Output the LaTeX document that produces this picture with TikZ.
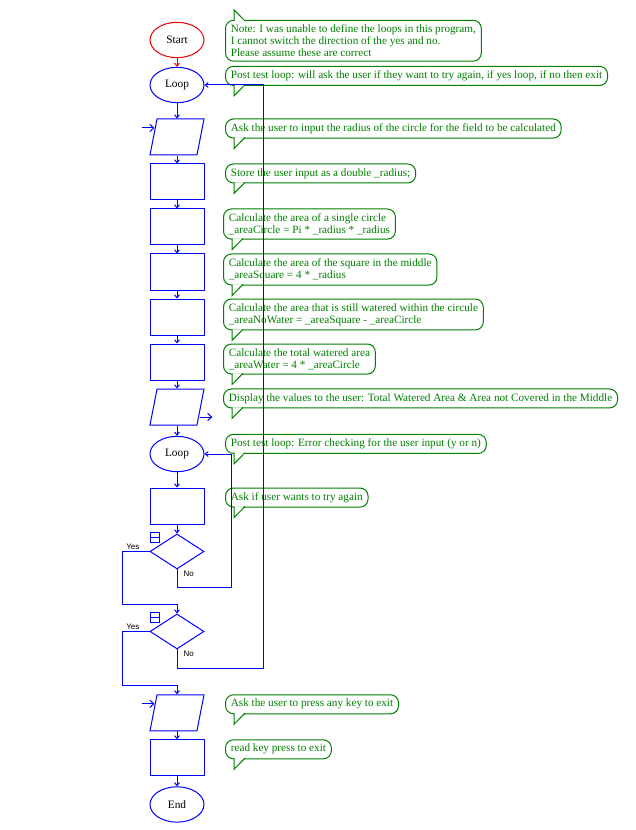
\documentclass[tikz,border=0pt]{standalone}
\usepackage{fontspec}
\setmainfont{Liberation Serif}
\setsansfont{Liberation Sans}
\usetikzlibrary{shapes.geometric,arrows.meta,positioning}

\definecolor{flowblue}{RGB}{0,0,255}
\definecolor{notegreen}{RGB}{0,128,0}
\definecolor{startred}{RGB}{240,0,0}

\begin{document}
\begin{tikzpicture}[>={Straight Barb[length=2.2pt,width=3.6pt]},node distance=33.75pt,line width=0.75pt]
\tikzstyle{every node}=[font=\fontsize{8.5}{10}\selectfont]
\tikzstyle{term}=[ellipse,draw=flowblue,minimum width=40.5pt,minimum height=26.5pt,inner sep=0pt]
\tikzstyle{proc}=[rectangle,draw=flowblue,minimum width=40.5pt,minimum height=27pt,inner sep=0pt]
\tikzstyle{io}=[trapezium,trapezium left angle=80,trapezium right angle=100,trapezium stretches=true,draw=flowblue,minimum width=40.5pt,minimum height=27pt,inner sep=1pt]
\tikzstyle{decision}=[diamond,draw=flowblue,minimum width=40.5pt,minimum height=26.25pt,inner sep=0pt]
\tikzstyle{toggle}=[rectangle,draw=flowblue,line width=0.6pt,minimum size=7pt,inner sep=0pt,anchor=north west,yshift=0.75pt,
  path picture={\draw[flowblue,line width=0.6pt] (path picture bounding box.west) -- (path picture bounding box.east);}]
\tikzstyle{note}=[rectangle,rounded corners=6pt,draw=notegreen,fill=white,text=notegreen,align=left,inner xsep=4pt,inner ysep=3.3pt,font=\fontsize{8.4}{9}\selectfont]
\tikzstyle{tail}=[draw=notegreen,fill=white]
\tikzstyle{flow}=[draw=flowblue,->]
\tikzstyle{iomark}=[draw=flowblue,-{Straight Barb[length=3pt,width=5.5pt]}]
\tikzstyle{yesno}=[font=\sffamily\fontsize{6}{7}\selectfont,inner sep=1pt]
\useasboundingbox (0,0) rectangle (476.25pt,-622.5pt);

% main column
\node[term,draw=startred] (start) at (132.75pt,-30pt) {Start};
\node[term,below of=start] (loopa) {Loop};
\node[io,below of=loopa,node distance=39pt] (inradius) {};
\node[proc,below of=inradius] (store) {};
\node[proc,below of=store] (areacircle) {};
\node[proc,below of=areacircle] (areasquare) {};
\node[proc,below of=areasquare] (areanowater) {};
\node[proc,below of=areanowater] (areawater) {};
\node[io,below of=areawater] (display) {};
\node[term,below of=display,node distance=35.25pt] (loopb) {Loop};
\node[proc,below of=loopb,node distance=39pt] (askagain) {};
\node[decision,below of=askagain,node distance=34.1pt] (checkinput) {};
\node[decision,below of=checkinput,node distance=60pt] (tryagain) {};
\node[io,below of=tryagain,node distance=61pt] (askkey) {};
\node[proc,below of=askkey] (readkey) {};
\node[term,below of=readkey,node distance=35pt] (end) {End};

\node[toggle] (checktog) at (checkinput.west |- checkinput.north) {};
\node[toggle] (trytog) at (tryagain.west |- tryagain.north) {};

% comments
\node[note,right=36pt of start.north,anchor=north west,yshift=1.5pt] (nstart) {Note: I was unable to define the loops in this program,\\I cannot switch the direction of the yes and no.\\Please assume these are correct};
\node[note,right=36pt of loopa.north,anchor=north west,yshift=0.75pt] (nloopa) {Post test loop: will ask the user if they want to try again, if yes loop, if no then exit};
\node[note,right=36pt of inradius.north,anchor=north west] (ninradius) {Ask the user to input the radius of the circle for the field to be calculated};
\node[note,right=36pt of store.north,anchor=north west] (nstore) {Store the user input as a double \_radius;};
\node[note,right=34.5pt of areacircle.north,anchor=north west] (nareacircle) {Calculate the area of a single circle\\\_areaCircle = Pi * \_radius * \_radius};
\node[note,right=34.5pt of areasquare.north,anchor=north west] (nareasquare) {Calculate the area of the square in the middle\\\_areaSquare = 4 * \_radius};
\node[note,right=34.5pt of areanowater.north,anchor=north west] (nareanowater) {Calculate the area that is still watered within the circule\\\_areaNoWater = \_areaSquare - \_areaCircle};
\node[note,right=34.5pt of areawater.north,anchor=north west] (nareawater) {Calculate the total watered area\\\_areaWater = 4 * \_areaCircle};
\node[note,right=34.5pt of display.north,anchor=north west] (ndisplay) {Display the values to the user: Total Watered Area \& Area not Covered in the Middle};
\node[note,right=36pt of loopb.north,anchor=north west,yshift=1.5pt] (nloopb) {Post test loop: Error checking for the user input (y or n)};
\node[note,right=36pt of askagain.north,anchor=north west] (naskagain) {Ask if user wants to try again};
\node[note,right=36pt of askkey.north,anchor=north west] (naskkey) {Ask the user to press any key to exit};
\node[note,right=36pt of readkey.north,anchor=north west] (nreadkey) {read key press to exit};

\path[tail] ([shift={(6.75pt,-0.9pt)}]nstart.north west) -- ([shift={(6.75pt,7.5pt)}]nstart.north west) -- ([shift={(15pt,-0.9pt)}]nstart.north west);
\foreach \n in {nloopa,ninradius,nstore,nareacircle,nareasquare,nareanowater,nareawater,ndisplay,nloopb,naskagain,naskkey,nreadkey}
  \path[tail] ([shift={(6.75pt,0.9pt)}]\n.south west) -- ([shift={(6.75pt,-7.5pt)}]\n.south west) -- ([shift={(15pt,0.9pt)}]\n.south west);

% input / output marks
\coordinate (inradius-in) at ([shift={(-8.25pt,6.75pt)}]inradius.west);
\coordinate (askkey-in) at ([shift={(-8.25pt,6.75pt)}]askkey.west);
\coordinate (display-out) at ([shift={(-1pt,-7.5pt)}]display.east);
\draw[iomark] (inradius-in) -- ++(9.4pt,0);
\draw[iomark] (askkey-in) -- ++(9.4pt,0);
\draw[iomark] (display-out) -- ++(9.5pt,0);

% connectors
\path[flow,draw=startred] (start) edge (loopa);
\path[flow] (loopa) edge (inradius)
            (inradius) edge (store)
            (store) edge (areacircle)
            (areacircle) edge (areasquare)
            (areasquare) edge (areanowater)
            (areanowater) edge (areawater)
            (areawater) edge (display)
            (display) edge (loopb)
            (loopb) edge (askagain)
            (askagain) edge (checkinput)
            (askkey) edge (readkey)
            (readkey) edge (end);

\coordinate (yesa) at ([yshift=6.75pt]tryagain.north);
\coordinate (yesb) at ([yshift=6.75pt]askkey.north);
\coordinate (backb) at ([xshift=20.25pt]loopb.east);
\coordinate (backa) at ([xshift=44.25pt]loopa.east);
\draw[flow] (checkinput.west) -- ++(-20.25pt,0) node[yesno,anchor=south west,xshift=1.5pt] (yeschk) {Yes} |- (yesa) -- (tryagain.north);
\draw[flow] (tryagain.west) -- ++(-20.25pt,0) node[yesno,anchor=south west,xshift=1.5pt] (yestry) {Yes} |- (yesb) -- (askkey.north);
\draw[flow] (checkinput.south) -- ++(0,-13.5pt) -| (backb) -- (loopb.east);
\draw[flow] (tryagain.south) -- ++(0,-14.25pt) -| (backa) -- (loopa.east);
\node[yesno,anchor=north west,xshift=3.5pt] (nochk) at (checkinput.south) {No};
\node[yesno,anchor=north west,xshift=3.5pt] (notry) at (tryagain.south) {No};
\end{tikzpicture}
\end{document}
